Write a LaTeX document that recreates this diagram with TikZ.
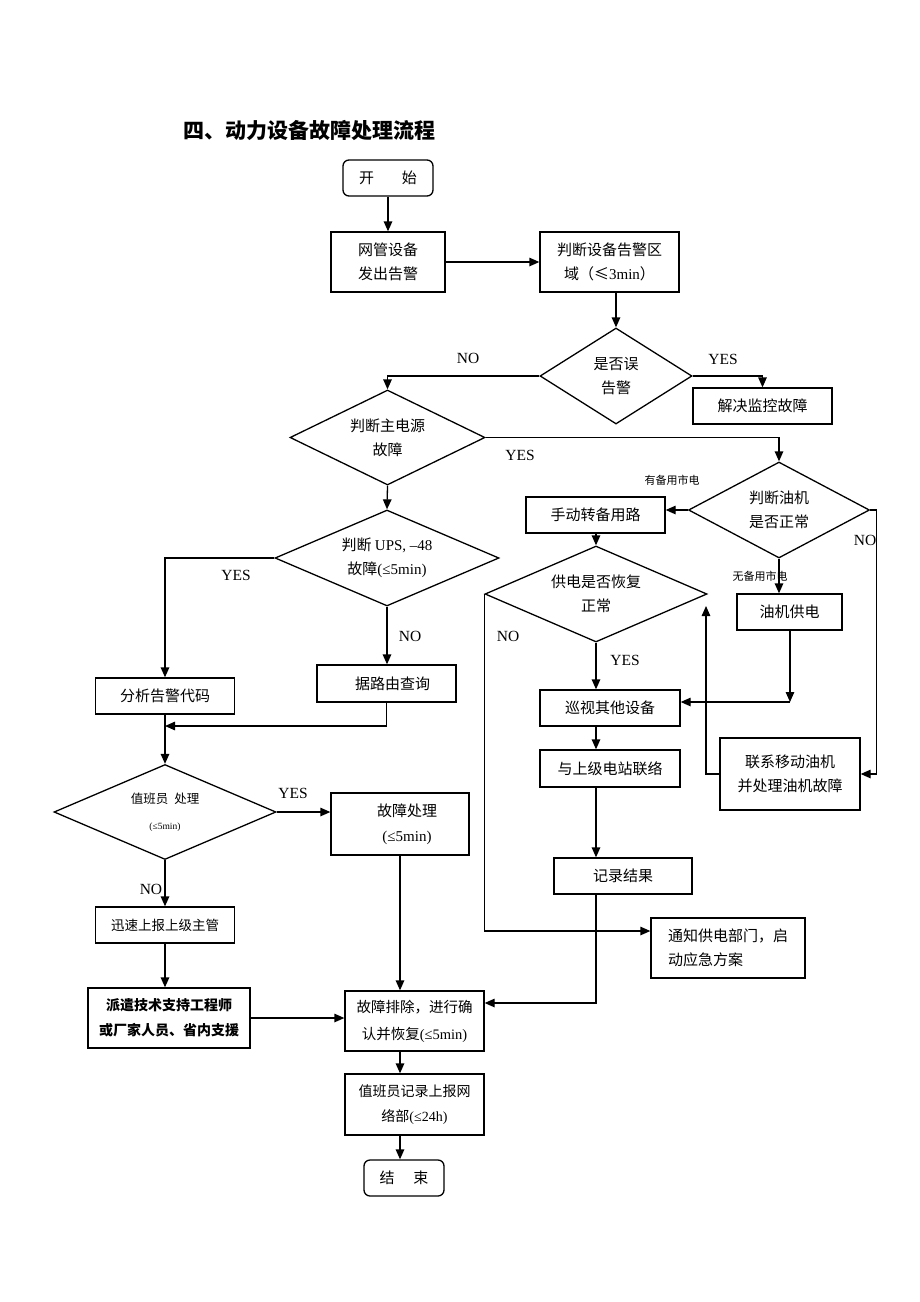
\documentclass[tikz,border=0pt]{standalone}
\usepackage{fontspec}
\setmainfont{Liberation Serif}
\newfontfamily\cjk{Noto Sans CJK SC}
\usetikzlibrary{shapes.geometric}
\usetikzlibrary{arrows.meta}
\newcommand{\ltn}[1]{{\rmfamily #1}}

\begin{document}
\begin{tikzpicture}[x=1pt,y=-1pt]
        \tikzset{box/.style={draw,line width=1.3pt,rectangle,align=center,inner sep=0pt,font=\cjk\fontsize{15}{24}\selectfont},
                 cond/.style={draw,line width=1.3pt,diamond,aspect=2.3,inner sep=0pt,align=center,font=\cjk\fontsize{15}{24}\selectfont},
                 term/.style={box,rounded corners=6pt},
                 yn/.style={font=\fontsize{15.5}{18}\selectfont,inner sep=0pt},
                 tag/.style={font=\cjk\fontsize{11}{13}\selectfont,inner sep=0pt},
                 arr/.style={line width=1.3pt,-{Triangle[length=10pt,width=8.5pt]}}}
        \useasboundingbox (0,0) rectangle (920,1302);
        \node[anchor=west,inner sep=0pt,font=\cjk\bfseries\fontsize{21}{24}\selectfont](Title) at (183,130) {四、动力设备故障处理流程};
        \node[term,minimum width=90pt,minimum height=36pt](Start) at (388,178) {开\hspace{28pt}始};
        \node[box,minimum width=114pt,minimum height=60pt](Alarm) at (388,262) {网管设备\\发出告警};
        \node[box,minimum width=139pt,minimum height=60pt](Area) at (609.5,262) {判断设备告警区\\域（≤\ltn{3min}）};
        \node[cond,minimum width=152pt,minimum height=96pt](Mis) at (616,376) {是否误\\告警};
        \node[box,minimum width=139pt,minimum height=36pt](Fix) at (762.5,406) {解决监控故障};
        \node[cond,minimum width=195pt,minimum height=95pt](Main) at (387.5,437.5) {判断主电源\\故障};
        \node[cond,minimum width=181pt,minimum height=96pt](Oil) at (779,510) {判断油机\\是否正常};
        \node[box,minimum width=139pt,minimum height=36pt](Manual) at (595.5,515) {手动转备用路};
        \node[box,minimum width=105pt,minimum height=36pt](Gen) at (789.5,612) {油机供电};
        \node[cond,minimum width=222pt,minimum height=96pt](Supply) at (596,594) {供电是否恢复\\正常};
        \node[box,minimum width=140pt,minimum height=72pt](Mobile) at (790,774) {联系移动油机\\并处理油机故障};
        \node[box,minimum width=140pt,minimum height=36pt](Patrol) at (610,708) {巡视其他设备};
        \node[box,minimum width=140pt,minimum height=37pt](Upper) at (610,768.5) {与上级电站联络};
        \node[box,minimum width=138pt,minimum height=36pt](Record) at (623,876) {记录结果};
        \node[box,minimum width=154pt,minimum height=60pt,align=left](Notify) at (728,948) {通知供电部门，启\\动应急方案};
        \node[cond,minimum width=224pt,minimum height=96pt](UPS) at (387,558) {判断 \ltn{UPS, –48}\\故障\ltn{(≤5min)}};
        \node[box,minimum width=139pt,minimum height=36pt](Analyze) at (165,696) {分析告警代码};
        \node[box,minimum width=139pt,minimum height=37pt](Route) at (386.5,683.5) {\hspace{12pt}据路由查询};
        \node[cond,minimum width=222pt,minimum height=95pt,font=\cjk\fontsize{12.5}{26}\selectfont](Duty) at (165,812) {值班员\hspace{6pt}处理\\{\fontsize{9.5}{12}\selectfont\ltn{(≤5min)}}};
        \node[box,minimum width=138pt,minimum height=62pt,font=\cjk\fontsize{15}{25}\selectfont](Handle) at (400,824) {\hspace{14pt}故障处理\\\hspace{14pt}\ltn{(≤5min)}};
        \node[box,minimum width=139pt,minimum height=36pt,font=\cjk\fontsize{13.5}{20}\selectfont](Report) at (165,925) {迅速上报上级主管};
        \node[box,minimum width=162pt,minimum height=60pt,font=\cjk\bfseries\fontsize{14}{25}\selectfont](Send) at (169,1018) {派遣技术支持工程师\\或厂家人员、省内支援};
        \node[box,minimum width=139pt,minimum height=60pt,font=\cjk\fontsize{14.5}{27}\selectfont](Clear) at (414.5,1021) {故障排除，进行确\\认并恢复\ltn{(≤5min)}};
        \node[box,minimum width=139pt,minimum height=61pt,font=\cjk\fontsize{14}{25}\selectfont](Log) at (414.5,1104.5) {值班员记录上报网\\络部\ltn{(≤24h)}};
        \node[term,minimum width=80pt,minimum height=36pt](End) at (404,1178) {结\hspace{19pt}束};
        \coordinate (GenTurn) at (790,702);
        \coordinate (Back) at (706,606);
        \coordinate (Join) at (165,726);
        \node[yn](NoMis) at (468,358) {NO};
        \node[yn](YesMis) at (723,359) {YES};
        \node[yn](YesMain) at (520,455) {YES};
        \node[tag](Spare) at (672,480) {有备用市电};
        \node[tag](NoSpare) at (760,576) {无备用市电};
        \node[yn](NoOil) at (865,540) {NO};
        \node[yn](YesUPS) at (236,575) {YES};
        \node[yn](NoUPS) at (410,636) {NO};
        \node[yn](NoSupply) at (508,636) {NO};
        \node[yn](YesSupply) at (625,660) {YES};
        \node[yn](YesDuty) at (293,793) {YES};
        \node[yn](NoDuty) at (151,889) {NO};
        \draw[arr] (Start) -- (Alarm);
        \draw[arr] (Alarm.east) -- (Area.west);
        \draw[arr] (Mis.north |- Area.south) -- (Mis.north);
        \draw[arr] (Mis.east) -| (Fix.north);
        \draw[arr] (Mis.west) -| (Main.north);
        \draw[arr] (Main.east) -| (Oil.north);
        \draw[arr] (Oil.west) -- (Oil.west -| Manual.east);
        \draw[arr] (Oil.east) -- ++(6,0) |- (Mobile.east);
        \draw[arr] (Oil.south) -- (Oil.south |- Gen.north);
        \draw[arr] (Manual.south -| Supply.north) -- (Supply.north);
        \draw[arr] (Supply.south) -- (Supply.south |- Patrol.north);
        \draw[arr] (Supply.west) |- ([yshift=17pt]Notify.west);
        \draw[arr] (Gen.south -| GenTurn) -- (GenTurn);
        \draw[arr] (GenTurn) -- (GenTurn -| Patrol.east);
        \draw[arr] (Mobile.west) -| (Back);
        \draw[arr] (Supply.south |- Patrol.south) -- (Supply.south |- Upper.north);
        \draw[arr] (Supply.south |- Upper.south) -- (Supply.south |- Record.north);
        \draw[arr] (Supply.south |- Record.south) |- ([yshift=18pt]Clear.east);
        \draw[arr] (Main.south) -- (UPS.north);
        \draw[arr] (UPS.west) -| (Analyze.north);
        \draw[arr] (UPS.south) -- (UPS.south |- Route.north);
        \draw[arr] (Route.south) |- (Join);
        \draw[arr] (Analyze.south) -- (Duty.north);
        \draw[arr] (Duty.east) -- (Duty.east -| Handle.west);
        \draw[arr] (Duty.south) -- (Report.north);
        \draw[arr] (Report.south) -- (Report.south |- Send.north);
        \draw[arr] (Send.east) -- (Send.east -| Clear.west);
        \draw[arr] (Handle.south) -- (Handle.south |- Clear.north);
        \draw[arr] (Handle.south |- Clear.south) -- (Handle.south |- Log.north);
        \draw[arr] (Handle.south |- Log.south) -- (Handle.south |- End.north);
    \end{tikzpicture}
\end{document}
